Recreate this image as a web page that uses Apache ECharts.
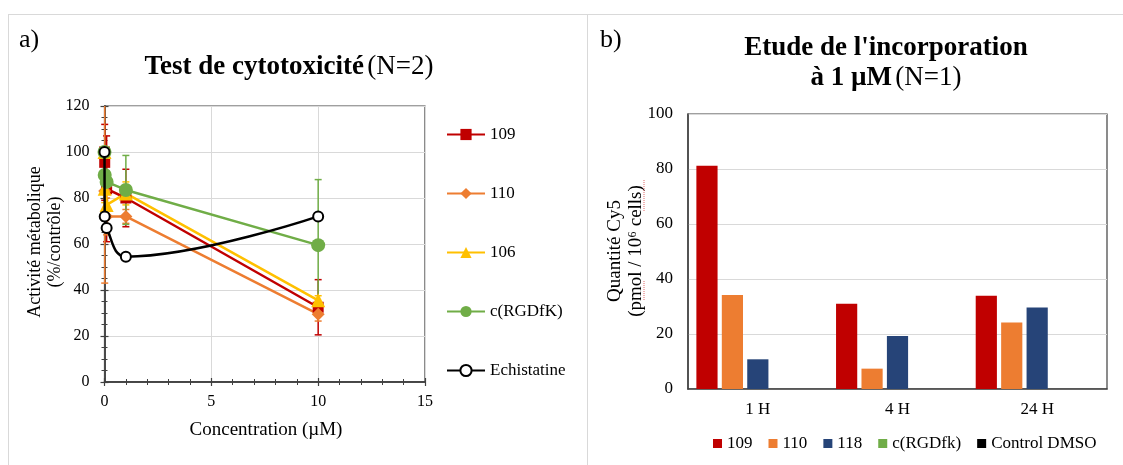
<!DOCTYPE html>
<html><head><meta charset="utf-8">
<script src="https://cdn.jsdelivr.net/npm/echarts@6/dist/echarts.min.js"></script>
<style>
html,body{margin:0;padding:0;background:#fff;width:1123px;height:465px;overflow:hidden;position:relative}
#a{position:absolute;left:0;top:0;width:587px;height:465px}
#b{position:absolute;left:587px;top:0;width:536px;height:465px}
.ln{position:absolute;background:#d9d9d9}
</style></head><body>
<div class="ln" style="left:8px;top:14px;width:1115px;height:1px"></div>
<div class="ln" style="left:8px;top:14px;width:1px;height:451px"></div>
<div class="ln" style="left:587px;top:14px;width:1px;height:451px"></div>
<div id="a"></div><div id="b"></div>
<script>
const FONT = '"Liberation Serif", "Times New Roman", serif';

// ---- Panel a) data ----
const concentrations = [0, 0.01, 0.1, 1, 10];
const cyto109 = [100, 95.5, 84, 80, 32.5];
const err109 = [0, 16.5, 23, 12.5, 12];
const cyto110 = [100, 83, 72, 72, 29.5];
const err110 = [0, 40, 8, 3, 3];
const cyto106 = [100, 84, 77, 82, 35.5];
const err106 = [0, 6, 5, 5, 2];
const cytoRGD = [100, 90, 87, 83.5, 59.5];
const errRGD = [0, 5, 4, 15, 28.5];
const cytoEchi = [100, 72, 67, 54.5, 72];
const namesA = ['109', '110', '106', 'c(RGDfK)', 'Echistatine'];

// ---- Panel b) data ----
const timepoints = ['1 H', '4 H', '24 H'];
const cy5_109 = [81.2, 31.0, 33.9];
const cy5_110 = [34.2, 7.4, 24.2];
const cy5_118 = [10.8, 19.3, 29.6];
const cy5_RGD = [null, null, null];
const cy5_DMSO = [null, null, null];
const namesB = ['109', '110', '118', 'c(RGDfk)', 'Control DMSO'];

const RED = '#C00000', ORANGE = '#ED7D31', YELLOW = '#FFC000', GREEN = '#70AD47', BLACK = '#000000', BLUE = '#264478';
const AXC = '#404040', GRIDC = '#D9D9D9';

function pts(vals) { return concentrations.map((x, i) => [x, vals[i]]); }

function errSeries(color, vals, errs) {
  return {
    type: 'custom', silent: true, z: 2,
    xAxisIndex: 0, yAxisIndex: 0,
    encode: { x: 0, y: 1 },
    data: concentrations.map((x, i) => [x, vals[i], errs[i]]),
    renderItem: function (params, api) {
      const x = api.value(0), y = api.value(1), e = api.value(2);
      if (!e) return { type: 'group', children: [] };
      const top = Math.min(y + e, 120), bot = Math.max(y - e, 0);
      const hi = api.coord([x, top]);
      const lo = api.coord([x, bot]);
      const w = 3.5;
      const st = { stroke: color, lineWidth: 1.5 };
      const ch = [{ type: 'line', shape: { x1: hi[0], y1: hi[1], x2: lo[0], y2: lo[1] }, style: st }];
      if (y + e <= 120) ch.push({ type: 'line', shape: { x1: hi[0] - w, y1: hi[1], x2: hi[0] + w, y2: hi[1] }, style: st });
      ch.push({ type: 'line', shape: { x1: lo[0] - w, y1: lo[1], x2: lo[0] + w, y2: lo[1] }, style: st });
      return { type: 'group', children: ch };
    }
  };
}

function lineSeries(name, color, vals, symbol, size, extra) {
  return Object.assign({
    type: 'line', name: name, data: pts(vals),
    xAxisIndex: 0, yAxisIndex: 0,
    symbol: symbol, symbolSize: size,
    lineStyle: { color: color, width: 2.5 },
    itemStyle: { color: color },
    z: 3, animation: false
  }, extra || {});
}

function valueAxisX(inside, show) {
  return {
    type: 'value', min: 0, max: 15, interval: 5, position: 'bottom', gridIndex: 0,
    axisLine: { show: true, onZero: false, lineStyle: { color: AXC, width: 1.5 } },
    axisTick: { show: true, inside: inside, length: 4, lineStyle: { color: AXC, width: 1.2 } },
    minorTick: { show: true, splitNumber: 5, length: 3, lineStyle: { color: AXC, width: 1 } },
    axisLabel: { show: show, fontFamily: FONT, fontSize: 16, color: '#000', margin: 12 },
    splitLine: { show: show, lineStyle: { color: GRIDC, width: 1 } },
    minorSplitLine: { show: false }
  };
}
function valueAxisY(inside, show) {
  return {
    type: 'value', min: 0, max: 120, interval: 20, position: 'left', gridIndex: 0,
    axisLine: { show: true, onZero: false, lineStyle: { color: AXC, width: 1.5 } },
    axisTick: { show: true, inside: inside, length: 4, lineStyle: { color: AXC, width: 1.2 } },
    minorTick: { show: true, splitNumber: 4, length: 3, lineStyle: { color: AXC, width: 1 } },
    axisLabel: { show: show, fontFamily: FONT, fontSize: 16, color: '#000', margin: 15 },
    splitLine: { show: show, lineStyle: { color: GRIDC, width: 1 } }
  };
}

const chartA = echarts.init(document.getElementById('a'), null, { renderer: 'canvas' });
chartA.setOption({
  animation: false,
  grid: { left: 104.5, top: 106, width: 320.5, height: 276, show: true, borderColor: AXC, borderWidth: 1.2, backgroundColor: 'transparent', containLabel: false },
  xAxis: [valueAxisX(false, true), valueAxisX(true, false)],
  yAxis: [valueAxisY(false, true), valueAxisY(true, false)],
  legend: {
    orient: 'vertical', left: 441, top: 121, itemWidth: 38, itemHeight: 14, itemGap: 42,
    data: namesA,
    textStyle: { fontFamily: FONT, fontSize: 17, color: '#000' }
  },
  graphic: [
    { type: 'text', left: 19, top: 27, style: { text: 'a)', font: '26px ' + FONT, fill: '#000' } },
    { type: 'text', x: 289, y: 67, style: {
        text: '{b|Test de cytotoxicité} {n|(N=2)}', align: 'center', verticalAlign: 'middle',
        rich: { b: { fontFamily: FONT, fontSize: 27, fontWeight: 'bold', fill: '#000' }, n: { fontFamily: FONT, fontSize: 27, fill: '#000' } } } },
    { type: 'text', x: 45, y: 242, rotation: Math.PI / 2, style: {
        text: 'Activité métabolique\n(%/contrôle)', align: 'center', verticalAlign: 'middle',
        font: '18px ' + FONT, lineHeight: 20, fill: '#000' } },
    { type: 'text', x: 266, y: 430, style: {
        text: 'Concentration (µM)', align: 'center', verticalAlign: 'middle', font: '19px ' + FONT, fill: '#000' } }
  ],
  series: [
    errSeries(RED, cyto109, err109),
    errSeries(ORANGE, cyto110, err110),
    errSeries(YELLOW, cyto106, err106),
    errSeries(GREEN, cytoRGD, errRGD),
    lineSeries('109', RED, cyto109, 'rect', 11),
    lineSeries('110', ORANGE, cyto110, 'diamond', 13),
    lineSeries('106', YELLOW, cyto106, 'triangle', 14),
    lineSeries('c(RGDfK)', GREEN, cytoRGD, 'circle', 14),
    lineSeries('Echistatine', BLACK, cytoEchi, 'emptyCircle', 10, {
      smooth: 0.4, itemStyle: { color: BLACK, borderWidth: 2 }, z: 4
    })
  ]
});

const chartB = echarts.init(document.getElementById('b'), null, { renderer: 'canvas' });
function barSeries(name, color, vals) {
  return { type: 'bar', name: name, data: vals, itemStyle: { color: color }, barGap: '20%', barCategoryGap: '12%', animation: false };
}
chartB.setOption({
  animation: false,
  grid: { left: 101, top: 114, width: 419, height: 275, show: true, borderColor: AXC, borderWidth: 1.2, containLabel: false },
  xAxis: {
    type: 'category', data: timepoints,
    axisLine: { lineStyle: { color: AXC, width: 1.5 } },
    axisTick: { show: false },
    axisLabel: { fontFamily: FONT, fontSize: 17, color: '#000', margin: 12 }
  },
  yAxis: {
    type: 'value', min: 0, max: 100, interval: 20,
    axisLine: { show: true, lineStyle: { color: AXC, width: 1.5 } },
    axisTick: { show: false },
    axisLabel: { fontFamily: FONT, fontSize: 17, color: '#000', margin: 15 },
    splitLine: { lineStyle: { color: GRIDC, width: 1 } }
  },
  legend: {
    orient: 'horizontal', left: 126, top: 435, padding: 0, itemWidth: 9, itemHeight: 9, itemGap: 16,
    icon: 'rect', data: namesB,
    textStyle: { fontFamily: FONT, fontSize: 17, color: '#000' }
  },
  graphic: [
    { type: 'text', left: 13, top: 27, style: { text: 'b)', font: '26px ' + FONT, fill: '#000' } },
    { type: 'text', x: 299, y: 48, style: {
        text: "Etude de l'incorporation", align: 'center', verticalAlign: 'middle',
        font: 'bold 27px ' + FONT, fill: '#000' } },
    { type: 'text', x: 299, y: 78, style: {
        text: '{b|à 1 µM} {n|(N=1)}', align: 'center', verticalAlign: 'middle',
        rich: { b: { fontFamily: FONT, fontSize: 27, fontWeight: 'bold', fill: '#000' }, n: { fontFamily: FONT, fontSize: 27, fill: '#000' } } } },
    { type: 'text', x: 39, y: 251, rotation: Math.PI / 2, style: {
        text: 'Quantité Cy5\n(pmol / 10⁶ cells)', align: 'center', verticalAlign: 'middle',
        font: '19px ' + FONT, lineHeight: 21, fill: '#000' } },
    { type: 'line', shape: { x1: 57, y1: 281, x2: 57, y2: 301 }, style: { stroke: '#E06666', lineWidth: 1, lineDash: [1, 1] } },
    { type: 'line', shape: { x1: 57, y1: 180, x2: 57, y2: 212 }, style: { stroke: '#E06666', lineWidth: 1, lineDash: [1, 1] } }
  ],
  series: [
    barSeries(namesB[0], RED, cy5_109),
    barSeries(namesB[1], ORANGE, cy5_110),
    barSeries(namesB[2], BLUE, cy5_118),
    barSeries(namesB[3], GREEN, cy5_RGD),
    barSeries(namesB[4], BLACK, cy5_DMSO)
  ]
});
</script>
</body></html>
